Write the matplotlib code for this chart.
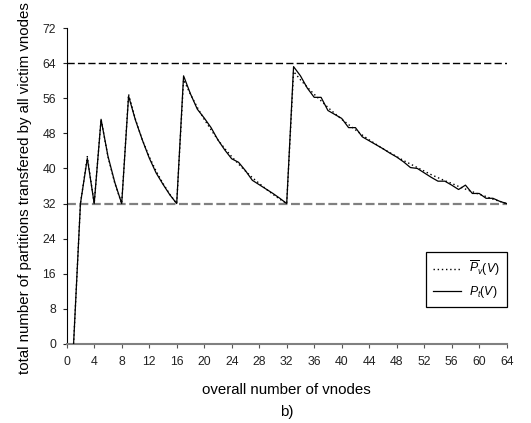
import matplotlib
matplotlib.use("Agg")
import matplotlib.pyplot as plt

plt.rcParams['font.family'] = ['Liberation Sans', 'DejaVu Sans']
plt.rcParams['mathtext.fontset'] = 'custom'
plt.rcParams['mathtext.it'] = 'Liberation Sans:italic'
plt.rcParams['mathtext.rm'] = 'Liberation Sans'

# number of vnodes
vnodes = list(range(1, 65))

# P_t(V) - measured
p_t = [0, 32, 42.3, 32, 51.2, 42.8, 36.8, 32,
       56.5, 51.0, 46.5, 42.4, 39.0, 36.4, 34.0, 32,
       61.1, 57.0, 53.5, 51.5, 49.3, 46.5, 44.2, 42.2,
       41.4, 39.5, 37.3, 36.3, 35.3, 34.3, 33.2, 32,
       63.2, 61.1, 58.3, 56.2, 56.2, 53.2, 52.3, 51.4,
       49.3, 49.3, 47.2, 46.3, 45.4, 44.5, 43.5, 42.6,
       41.5, 40.2, 40.0, 39.0, 38.0, 37.1, 37.1, 36.2,
       35.2, 36.2, 34.3, 34.3, 33.2, 33.2, 32.5, 32]

# mean P_v(V)
p_v = [0, 32, 42.7, 32, 51.2, 42.7, 36.6, 32,
       56.9, 51.2, 46.5, 42.7, 39.4, 36.6, 34.1, 32,
       60.2, 56.9, 53.9, 51.2, 48.8, 46.5, 44.5, 42.7,
       41.0, 39.4, 37.9, 36.6, 35.3, 34.1, 33.0, 32,
       62.1, 60.2, 58.5, 56.9, 55.4, 53.9, 52.5, 51.2,
       50.0, 48.8, 47.6, 46.5, 45.5, 44.5, 43.6, 42.7,
       41.8, 41.0, 40.2, 39.4, 38.6, 37.9, 37.2, 36.6,
       35.9, 35.3, 34.7, 34.1, 33.6, 33.0, 32.5, 32]

upper_bound = 64
lower_bound = 32

W, H = 531, 423
fig = plt.figure(figsize=(W / 100, H / 100), dpi=100)
ax = fig.add_axes([66.7 / W, 1 - 344 / H, 440 / W, 316 / H])

ax.axhline(upper_bound, color='black', lw=1.0, dashes=(5.2, 2.3), zorder=1)
ax.axhline(lower_bound, color='#808080', lw=1.6, dashes=(4, 1.6), zorder=1)

ax.plot(vnodes, p_v, color='black', lw=1.0, linestyle=(0, (1, 2)), label=r'$\overline{P}_v(V)$', zorder=3)
ax.plot(vnodes, p_t, color='black', lw=0.9, label=r'$P_t(V)$', zorder=2)

ax.set_xlim(0, 64)
ax.set_ylim(0, 72)
ax.set_xticks(range(0, 65, 4))
ax.set_yticks(range(0, 73, 8))
ax.tick_params(axis='both', labelsize=8.8, direction='out', length=3.2, colors='#222222')
ax.tick_params(axis='x', color='#555555', pad=5.5)
ax.tick_params(axis='y', pad=4.5)

for s in ['top', 'right']:
    ax.spines[s].set_visible(False)
ax.spines['left'].set_color('black')
ax.spines['bottom'].set_color('#808080')
ax.spines['bottom'].set_linewidth(1.5)

fig.text(25 / W, 1 - 188 / H, 'total number of partitions transfered by all victim vnodes',
         fontsize=10.8, rotation=90, ha='center', va='center')
fig.text(286.7 / W, 1 - 390 / H, 'overall number of vnodes', fontsize=10.8, ha='center', va='center')
fig.text(287 / W, 1 - 412 / H, 'b)', fontsize=10.8, ha='center', va='center')

leg = ax.legend(loc='lower right', bbox_to_anchor=(1.0, 0.116), borderaxespad=0, fontsize=8.8,
                fancybox=False, framealpha=1, edgecolor='black',
                handlelength=2.3, handletextpad=0.6, borderpad=0.6, labelspacing=0.5)
leg.get_frame().set_linewidth(0.9)

fig.savefig('out.png', dpi=100)
